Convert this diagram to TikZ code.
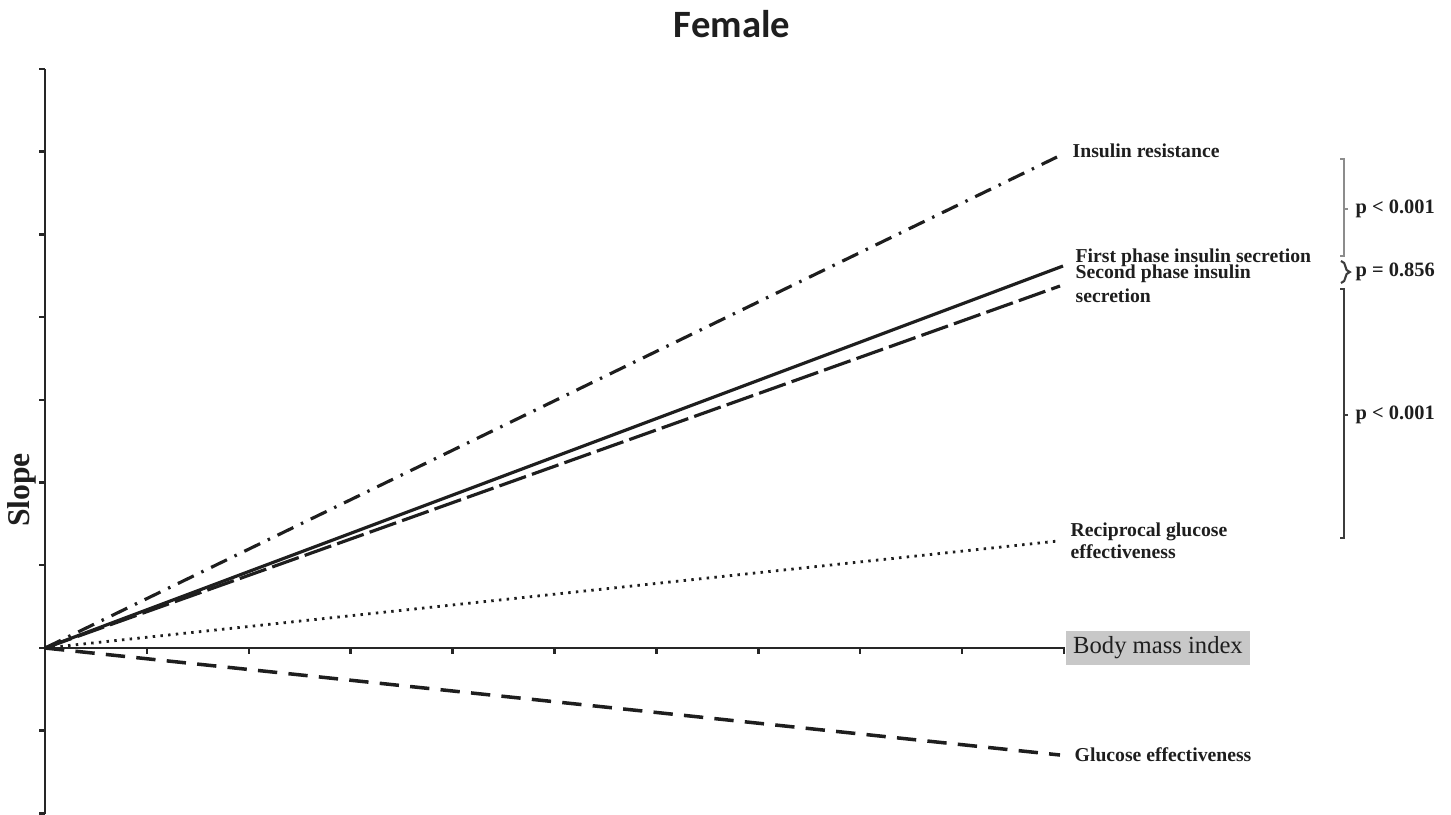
\documentclass[tikz,border=0pt]{standalone}
\usepackage{fontspec}
\setmainfont{Liberation Serif}
\newfontfamily\titlefont{Carlito}
\usetikzlibrary{positioning, decorations.pathreplacing}
\definecolor{ink}{HTML}{1E1E1E}
\definecolor{axis}{HTML}{262626}
\definecolor{brk}{HTML}{8C8C8C}
\definecolor{brkdark}{HTML}{3C3C3C}
\definecolor{bmibox}{HTML}{C8C8C8}
\tikzset{
  every node/.style = {text=ink, inner sep=0pt},
  slaxis/.style   = {draw=axis, line width=0.75pt},
  sltick/.style   = {draw=axis, line width=0.7pt},
  sllab/.style    = {font=\fontsize{5.6}{6.5}\selectfont\bfseries, anchor=base west},
  sllab2/.style   = {font=\fontsize{5.6}{6.4}\selectfont\bfseries, anchor=north west, align=left},
  slp/.style      = {font=\fontsize{5.8}{7}\selectfont\bfseries, anchor=west},
  slresist/.style = {draw=ink, line width=0.9pt, dash pattern=on 5pt off 2.4pt on 0.7pt off 2.4pt},
  slfirst/.style  = {draw=ink, line width=0.9pt},
  slsecond/.style = {draw=ink, line width=0.9pt, dash pattern=on 8pt off 1.8pt},
  slrecip/.style  = {draw=ink, line width=0.8pt, dash pattern=on 0.7pt off 1.5pt},
  slgluc/.style   = {draw=ink, line width=1pt, dash pattern=on 5.5pt off 3.2pt},
  slbrk/.style    = {draw=brk, line width=0.6pt},
  slbrkd/.style   = {draw=brkdark, line width=0.6pt},
}

\begin{document}
\begin{tikzpicture}[x=0.01cm, y=-0.01cm]
\useasboundingbox (0,0) rectangle (1451,814);

\node[font=\titlefont\fontsize{11}{12}\selectfont\bfseries] (title) at (732,24) {Female};
\node[rotate=90, font=\fontsize{9}{10}\selectfont\bfseries] (slope) at (22,490) {Slope};

% axes
\coordinate (O) at (45,648);
\node[fill=bmibox, minimum width=1.84cm, minimum height=0.34cm,
      font=\fontsize{7}{8}\selectfont] (bmi) at (1158,648) {Body mass index};
\draw[slaxis] (45,69) -- (45,814);
\draw[slaxis] (O) -- (bmi.west);
\foreach \k in {0,...,9}
  \draw[sltick] (39,69+82.7*\k) -- (45,69+82.7*\k);
\foreach \k in {1,...,10}
  \draw[sltick] (45+101.9*\k,648) -- ++(0,6);

% slopes
\coordinate (irEnd) at (1057,157);
\coordinate (fpEnd) at (1063,266);
\coordinate (spEnd) at (1060,286);
\coordinate (rgEnd) at (1058,541);
\coordinate (geEnd) at (1060,755);
\draw[slresist] (O) -- (irEnd);
\draw[slfirst]  (O) -- (fpEnd);
\draw[slsecond] (O) -- (spEnd);
\draw[slrecip]  (O) -- (rgEnd);
\draw[slgluc]   (O) -- (geEnd);

\node[sllab] (ir) at (1072,157) {Insulin resistance};
\node[sllab] (fp) at (1075,262) {First phase insulin secretion};
\node[sllab2] (sp) at (1075,264) {Second phase insulin\\[0.5pt]secretion};
\node[sllab2] (rg) at (1070,522) {Reciprocal glucose\\effectiveness};
\node[sllab] (ge) at (1074,761) {Glucose effectiveness};

% significance
\node[slp] (p1) at (1355,209) {p < 0.001};
\node[slp] (p2) at (1355,272) {p = 0.856};
\node[slp] (p3) at (1355,415) {p < 0.001};
\draw[slbrk] (1340,159) -- (1344,159) -- (1344,256) -- (1340,256);
\draw[slbrk, shorten >=2pt] (1344,209) -- (p1.west);
\draw[slbrkd, decorate, decoration={brace, amplitude=2.5pt}] (1341,261) -- (1341,283);
\draw[slbrkd] (1340,289) -- (1344,289) -- (1344,538) -- (1340,538);
\draw[slbrkd, shorten >=2pt] (1344,415) -- (p3.west);
\end{tikzpicture}
\end{document}
